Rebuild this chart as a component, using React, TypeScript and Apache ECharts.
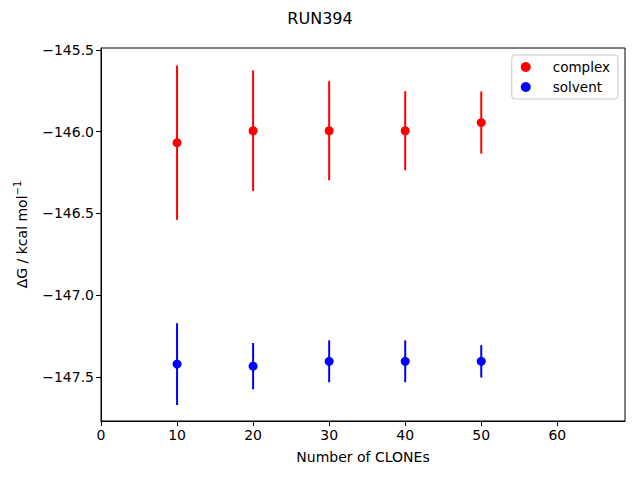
import React, { useEffect, useRef } from "react";
import * as echarts from "echarts";

const clones = [10, 20, 30, 40, 50];
const complexValues = [-146.067, -145.994, -145.994, -145.994, -145.944];
const complexErrors = [0.472, 0.369, 0.303, 0.242, 0.19];
const solventValues = [-147.421, -147.434, -147.404, -147.404, -147.404];
const solventErrors = [0.25, 0.142, 0.128, 0.128, 0.099];
const xTicks = [0, 10, 20, 30, 40, 50, 60];
const yTicks = [-147.5, -147.0, -146.5, -146.0, -145.5];

const FONT = "DejaVu Sans";
const fmtMinus = (v: number, d: number) => {
  const s = v.toFixed(d);
  return s.replace("-", "\u2212");
};

function errorSeries(values: number[], errors: number[], color: string) {
  const data = clones.map((x, i) => [x, values[i] - errors[i], values[i] + errors[i]]);
  return {
    type: "custom",
    silent: true,
    data,
    encode: { x: 0, y: [1, 2] },
    renderItem: (params: any, api: any) => {
      const p1 = api.coord([api.value(0), api.value(1)]);
      const p2 = api.coord([api.value(0), api.value(2)]);
      return {
        type: "line",
        shape: { x1: p1[0], y1: p1[1], x2: p2[0], y2: p2[1] },
        style: { stroke: color, lineWidth: 2 },
      };
    },
    z: 2,
  };
}

export default function App() {
  const ref = useRef<HTMLDivElement>(null);
  useEffect(() => {
    if (!ref.current) return;
    const chart = echarts.init(ref.current, null, { renderer: "svg" });
    chart.setOption({
      animation: false,
      backgroundColor: "#ffffff",
      title: {
        text: "RUN394",
        left: "center",
        top: 5,
        textStyle: { fontFamily: FONT, fontSize: 16, fontWeight: "normal", color: "#000" },
      },
      grid: {
        left: 101,
        right: 15,
        top: 48,
        bottom: 59,
        show: true,
        borderColor: "#000",
        borderWidth: 1,
        backgroundColor: "transparent",
      },
      legend: {
        orient: "vertical",
        right: 22,
        top: 55,
        icon: "circle",
        itemWidth: 20,
        itemHeight: 10,
        itemGap: 6,
        padding: [5, 8, 5, 9],
        backgroundColor: "#fff",
        borderColor: "#c8c8c8",
        borderWidth: 1,
        borderRadius: 3,
        data: ["complex", "solvent"],
        textStyle: { fontFamily: FONT, fontSize: 13.5, color: "#000", padding: [0, 0, 0, 12] },
      },
      xAxis: {
        type: "value",
        min: 0,
        max: 68.9,
        name: "Number of CLONEs",
        nameLocation: "middle",
        nameGap: 29,
        nameTextStyle: { fontFamily: FONT, fontSize: 14, color: "#000" },
        axisLine: { show: true, lineStyle: { color: "#000", width: 1 } },
        axisTick: { show: true, length: 5, lineStyle: { color: "#000" }, customValues: xTicks },
        axisLabel: {
          fontFamily: FONT,
          fontSize: 14,
          color: "#000",
          margin: 7,
          customValues: xTicks,
          formatter: (v: number) => String(v),
        },
        splitLine: { show: false },
      },
      yAxis: {
        type: "value",
        min: -147.769,
        max: -145.488,
        name: "\u0394G / kcal mol{sup|\u22121}",
        nameLocation: "middle",
        nameGap: 70,
        nameTextStyle: {
          fontFamily: FONT,
          fontSize: 14,
          color: "#000",
          rich: {
            sup: { fontFamily: FONT, fontSize: 10, color: "#000", padding: [0, 0, 9, 0] },
          },
        },
        axisLine: { show: true, lineStyle: { color: "#000", width: 1 } },
        axisTick: { show: true, length: 5, lineStyle: { color: "#000" }, customValues: yTicks },
        axisLabel: {
          fontFamily: FONT,
          fontSize: 14,
          color: "#000",
          margin: 7,
          customValues: yTicks,
          formatter: (v: number) => fmtMinus(v, 1),
        },
        splitLine: { show: false },
      },
      series: [
        errorSeries(complexValues, complexErrors, "#ff0000"),
        errorSeries(solventValues, solventErrors, "#0000ff"),
        {
          name: "complex",
          type: "scatter",
          data: clones.map((x, i) => [x, complexValues[i]]),
          symbol: "circle",
          symbolSize: 9,
          itemStyle: { color: "#ff0000", opacity: 1 },
          z: 3,
        },
        {
          name: "solvent",
          type: "scatter",
          data: clones.map((x, i) => [x, solventValues[i]]),
          symbol: "circle",
          symbolSize: 9,
          itemStyle: { color: "#0000ff", opacity: 1 },
          z: 3,
        },
      ],
    });
    return () => chart.dispose();
  }, []);
  return <div ref={ref} style={{ width: 640, height: 480, position: "absolute", left: 0, top: 0 }} />;
}
